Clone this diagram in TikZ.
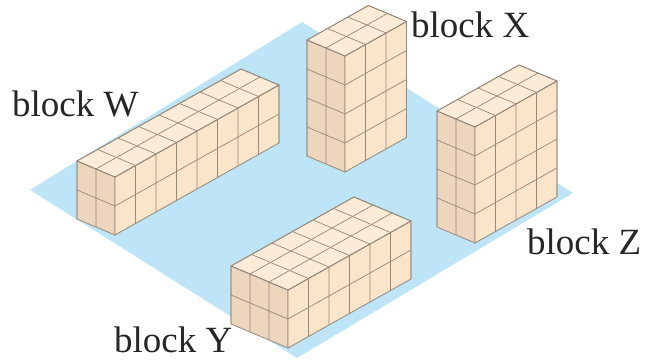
\documentclass[tikz,border=0pt]{standalone}
\usepackage{fontspec}
\setmainfont{Liberation Serif}
\usetikzlibrary{calc,positioning}
\definecolor{floorblue}{RGB}{190,228,248}
\definecolor{cubeleft}{RGB}{238,213,190}
\definecolor{cuberight}{RGB}{250,228,202}
\definecolor{cubetop}{RGB}{252,235,214}
\definecolor{cubeline}{RGB}{150,136,122}
\tikzset{
  left face/.style={fill=cubeleft, draw=cubeline, line width=.8pt, line join=round},
  right face/.style={fill=cuberight, draw=cubeline, line width=.8pt, line join=round},
  top face/.style={fill=cubetop, draw=cubeline, line width=.8pt, line join=round},
  grid line/.style={draw=cubeline, line width=.7pt},
  block label/.style={text=black!85, inner sep=0pt, font=\fontsize{37}{40}\selectfont}
}
% #1 front bottom corner, #2 cubes along a, #3 cubes along b, #4 cubes high
\newcommand{\cubeblock}[4]{%
  \begin{scope}[shift={#1}, x={(20.5pt,11.5pt)}, y={(19pt,-8pt)}, z={(0pt,29pt)}]
    \filldraw[left face] (0,-#3,0) -- (0,0,0) -- (0,0,#4) -- (0,-#3,#4) -- cycle;
    \filldraw[right face] (0,0,0) -- (#2,0,0) -- (#2,0,#4) -- (0,0,#4) -- cycle;
    \filldraw[top face] (0,0,#4) -- (#2,0,#4) -- (#2,-#3,#4) -- (0,-#3,#4) -- cycle;
    \foreach \k in {1,...,#4}
      \draw[grid line] (0,-#3,\k) -- (0,0,\k) -- (#2,0,\k);
    \foreach \i in {1,...,#2}
      \draw[grid line] (\i,0,0) -- (\i,0,#4) -- (\i,-#3,#4);
    \foreach \j in {1,...,#3}
      \draw[grid line] (0,-\j,0) -- (0,-\j,#4) -- (#2,-\j,#4);
  \end{scope}}

\begin{document}
\begin{tikzpicture}[x=1pt,y=1pt]
  \useasboundingbox (0,0) rectangle (646,361);

  % floor
  \coordinate (floor_left) at (30,171);
  \coordinate (floor_top) at (302,339);
  \coordinate (floor_right) at (573,168);
  \coordinate (floor_bottom) at (297,3);
  \fill[floorblue] (floor_left) -- (floor_top) -- (floor_right) -- (floor_bottom) -- cycle;

  % blocks, back to front
  \cubeblock{(345,189)}{3}{2}{4}   % X
  \cubeblock{(115,126)}{8}{2}{2}   % W
  \cubeblock{(475,118)}{4}{2}{4}   % Z
  \cubeblock{(288,13)}{6}{3}{2}    % Y

  \node (label_w) [block label, anchor=base west] at (12,244) {block W};
  \node (label_x) [block label, anchor=base west] at (411,323) {block X};
  \node (label_z) [block label, anchor=base west] at (527,106) {block Z};
  \node (label_y) [block label, anchor=base west] at (114,8) {block Y};
\end{tikzpicture}
\end{document}
